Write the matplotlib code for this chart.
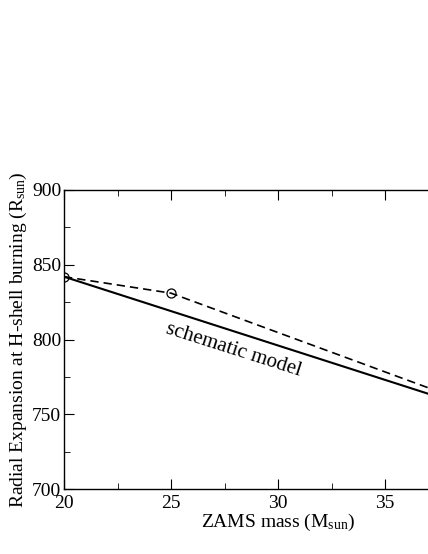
import matplotlib
matplotlib.use('Agg')
import matplotlib.pyplot as plt
from matplotlib.ticker import MultipleLocator

plt.rcParams['font.family'] = ['Liberation Serif', 'DejaVu Serif']
plt.rcParams['mathtext.fontset'] = 'custom'
plt.rcParams['mathtext.rm'] = 'Liberation Serif'
plt.rcParams['mathtext.it'] = 'Liberation Serif:italic'

# schematic model (solid) and computed models (dashed, circles)
schematic_mass = [20, 40]
schematic_radius = [842, 750]
model_mass = [20, 25, 40]
model_radius = [842, 831, 752]

fig = plt.figure(figsize=(4.28, 5.54), dpi=100)
# axes run past the right edge of the figure, as in the reference
ax = fig.add_axes([64/428, (554-489)/554, 428/428, 299/554])

ax.plot(schematic_mass, schematic_radius, color='black', linewidth=1.5)
ax.plot(model_mass, model_radius, color='black', linewidth=1.2, linestyle=(0, (5, 3)),
        marker='o', markersize=6.5, markerfacecolor='none', markeredgewidth=0.9)

ax.set_xlim(20, 40)
ax.set_ylim(700, 900)
ax.xaxis.set_major_locator(MultipleLocator(5))
ax.xaxis.set_minor_locator(MultipleLocator(2.5))
ax.yaxis.set_major_locator(MultipleLocator(50))
ax.yaxis.set_minor_locator(MultipleLocator(25))
ax.tick_params(which='both', direction='in', top=True, right=True, labelsize=14)
ax.tick_params(which='major', length=7)
ax.tick_params(axis='x', which='major', pad=4)
ax.tick_params(axis='y', which='major', pad=2)
ax.tick_params(which='minor', length=4)
for s in ax.spines.values():
    s.set_linewidth(1.0)

ax.set_xlabel(r'ZAMS mass (M$_{\mathrm{sun}}$)', fontsize=14, labelpad=0)
ax.set_ylabel(r'Radial Expansion at H-shell burning (R$_{\mathrm{sun}}$)', fontsize=14, labelpad=2)

ax.text(27.9, 793, 'schematic model', fontsize=15, rotation=-17.7,
        ha='center', va='center', rotation_mode='anchor')

fig.savefig('out.png', dpi=100)
